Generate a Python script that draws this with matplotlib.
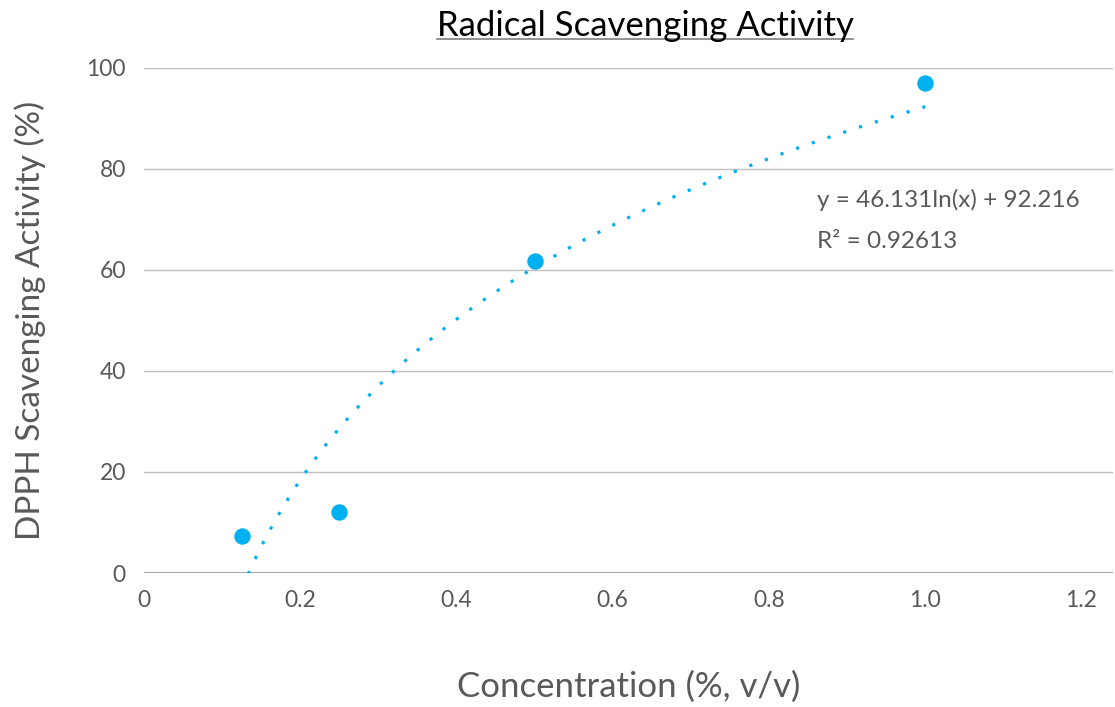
import numpy as np
import matplotlib
matplotlib.use("Agg")
import matplotlib.pyplot as plt
from matplotlib.lines import Line2D

# data
concentration = [0.125, 0.25, 0.5, 1.0]
scavenging = [7.4, 12.1, 61.7, 97.0]
x_ticks = [0, 0.2, 0.4, 0.6, 0.8, 1.0, 1.2]
x_tick_labels = ["0", "0.2", "0.4", "0.6", "0.8", "1.0", "1.2"]
y_ticks = [0, 20, 40, 60, 80, 100]
equation_lines = ["y = 46.131ln(x) + 92.216", "R² = 0.92613"]

plt.rcParams["font.family"] = ["Lato", "DejaVu Sans"]
blue = "#00B0F0"
grey = "#595959"

fig = plt.figure(figsize=(11.15, 7.07), dpi=100)
ax = fig.add_axes([0.129, 0.1895, 0.869, 0.7145])

# logarithmic trendline fitted on the points
slope, intercept = np.polyfit(np.log(concentration), scavenging, 1)
xs = np.linspace(min(concentration), max(concentration), 300)
ax.plot(xs, slope * np.log(xs) + intercept, color=blue, lw=2.3,
        linestyle=(0, (1, 4.2)), zorder=3)

ax.scatter(concentration, scavenging, s=140, color=blue, zorder=4, linewidths=0)

ax.set_xlim(0, 1.24)
ax.set_ylim(0, 100)
ax.set_xticks(x_ticks)
ax.set_xticklabels(x_tick_labels)
ax.set_yticks(y_ticks)
ax.tick_params(length=0, labelsize=16.5, colors=grey, pad=12)
ax.tick_params(axis="y", pad=13)
ax.grid(axis="y", color="#bfbfbf", lw=1)
ax.axhline(0, color="#a6a6a6", lw=1.5, zorder=2)
for s in ax.spines.values():
    s.set_visible(False)

ax.set_xlabel("Concentration (%, v/v)", fontsize=25, color=grey, labelpad=43)
ax.set_ylabel("DPPH Scavenging Activity (%)", fontsize=24, color=grey, labelpad=29)

for i, line in enumerate(equation_lines):
    fig.text(817 / 1115, 1 - (200 + 41 * i) / 707, line, fontsize=17.5,
             color=grey, ha="left", va="center")

title = fig.text(645 / 1115, 1 - 26 / 707, "Radical Scavenging Activity",
                 fontsize=25, color="black", ha="center", va="center")
fig.canvas.draw()
bb = title.get_window_extent().transformed(fig.transFigure.inverted())
fig.add_artist(Line2D([bb.x0, bb.x1], [bb.y0 + 0.004, bb.y0 + 0.004],
                      transform=fig.transFigure, color="#7f7f7f", lw=1.2))

fig.savefig("out.png", dpi=100)
